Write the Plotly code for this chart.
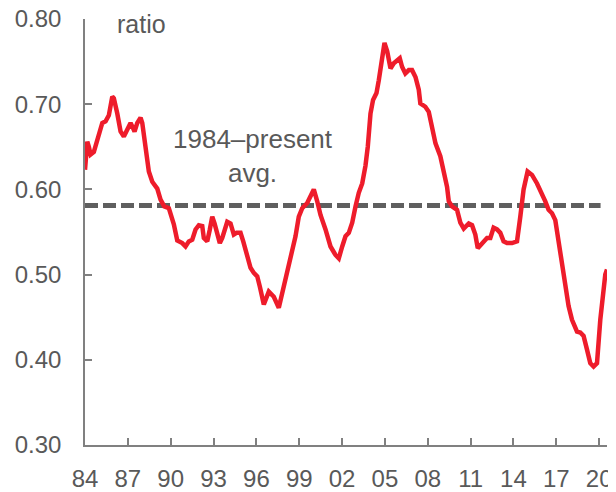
import plotly.graph_objects as go

# decimal years and ratio values
years = [1984.00, 1984.16, 1984.27, 1984.39, 1984.62, 1984.86, 1985.21, 1985.44, 1985.67, 1985.91,
         1986.02, 1986.26, 1986.49, 1986.72, 1986.96, 1987.19, 1987.31, 1987.47, 1987.66, 1987.89,
         1988.01, 1988.24, 1988.47, 1988.71, 1989.06, 1989.29, 1989.55, 1989.87, 1990.22, 1990.46,
         1990.81, 1991.04, 1991.27, 1991.51, 1991.74, 1991.97, 1992.21, 1992.32, 1992.56, 1992.74,
         1992.91, 1993.07, 1993.26, 1993.44, 1993.61, 1993.84, 1993.96, 1994.19, 1994.31, 1994.42,
         1994.61, 1994.89, 1995.08, 1995.24, 1995.40, 1995.59, 1995.82, 1996.06, 1996.24, 1996.41,
         1996.52, 1996.87, 1997.22, 1997.57, 1997.92, 1998.27, 1998.51, 1998.74, 1998.97, 1999.21,
         1999.56, 1999.79, 2000.02, 2000.26, 2000.49, 2000.84, 2001.19, 2001.54, 2001.77, 2002.01,
         2002.24, 2002.47, 2002.71, 2002.94, 2003.17, 2003.41, 2003.64, 2003.80, 2003.99, 2004.17,
         2004.41, 2004.57, 2004.81, 2004.97, 2005.16, 2005.39, 2005.62, 2005.85, 2006.04, 2006.20,
         2006.43, 2006.67, 2006.90, 2007.14, 2007.37, 2007.48, 2007.83, 2008.07, 2008.30, 2008.54,
         2008.88, 2009.12, 2009.35, 2009.47, 2009.70, 2010.05, 2010.28, 2010.52, 2010.87, 2011.10,
         2011.33, 2011.50, 2011.80, 2012.15, 2012.38, 2012.61, 2012.85, 2013.08, 2013.31, 2013.55,
         2013.90, 2014.25, 2014.48, 2014.71, 2014.99, 2015.30, 2015.65, 2016.00, 2016.23, 2016.46,
         2016.70, 2016.93, 2017.16, 2017.40, 2017.63, 2017.86, 2018.10, 2018.45, 2018.68, 2018.91,
         2019.15, 2019.38, 2019.61, 2019.85, 2020.08, 2020.27, 2020.43, 2020.55]
ratio = [0.623, 0.656, 0.650, 0.641, 0.644, 0.660, 0.678, 0.680, 0.687, 0.709,
         0.707, 0.689, 0.668, 0.662, 0.670, 0.678, 0.674, 0.668, 0.678, 0.684,
         0.678, 0.646, 0.621, 0.609, 0.601, 0.588, 0.580, 0.578, 0.559, 0.540,
         0.537, 0.533, 0.539, 0.541, 0.553, 0.558, 0.557, 0.543, 0.539, 0.553,
         0.568, 0.560, 0.549, 0.537, 0.543, 0.557, 0.562, 0.560, 0.553, 0.547,
         0.549, 0.549, 0.539, 0.529, 0.517, 0.508, 0.502, 0.498, 0.486, 0.471,
         0.465, 0.480, 0.474, 0.461, 0.486, 0.510, 0.525, 0.545, 0.568, 0.578,
         0.584, 0.592, 0.600, 0.586, 0.570, 0.553, 0.533, 0.523, 0.519, 0.533,
         0.545, 0.549, 0.561, 0.580, 0.596, 0.607, 0.628, 0.650, 0.689, 0.705,
         0.713, 0.728, 0.756, 0.772, 0.762, 0.742, 0.748, 0.752, 0.754, 0.744,
         0.736, 0.740, 0.740, 0.732, 0.717, 0.701, 0.697, 0.691, 0.670, 0.654,
         0.639, 0.623, 0.603, 0.586, 0.580, 0.576, 0.561, 0.554, 0.560, 0.558,
         0.547, 0.531, 0.537, 0.543, 0.543, 0.555, 0.553, 0.549, 0.539, 0.537,
         0.537, 0.539, 0.568, 0.600, 0.621, 0.617, 0.607, 0.596, 0.586, 0.576,
         0.572, 0.564, 0.541, 0.514, 0.486, 0.463, 0.447, 0.433, 0.432, 0.428,
         0.412, 0.396, 0.392, 0.396, 0.447, 0.482, 0.500, 0.506]

avg_value = 0.581
avg_span = [1984.0, 2020.1]

x_tick_vals = [1984, 1987, 1990, 1993, 1996, 1999, 2002, 2005, 2008, 2011, 2014, 2017, 2020]
x_tick_text = ["84", "87", "90", "93", "96", "99", "02", "05", "08", "11", "14", "17", "20"]
y_tick_vals = [0.30, 0.40, 0.50, 0.60, 0.70, 0.80]
y_tick_text = ["0.30", "0.40", "0.50", "0.60", "0.70", "0.80"]

TXT = "#595959"
AX = "#808080"
FONT = "Liberation Sans, Arial, sans-serif"

fig = go.Figure()
fig.add_trace(go.Scatter(x=avg_span, y=[avg_value, avg_value], mode="lines",
                         line=dict(color="#5f5f5f", width=5, dash="13px,5px"),
                         hoverinfo="skip", showlegend=False))
fig.add_trace(go.Scatter(x=years, y=ratio, mode="lines",
                         line=dict(color="#ee1c2b", width=4.5, shape="linear"),
                         showlegend=False))

fig.add_annotation(x=0.057, y=0.988, xref="paper", yref="paper", text="ratio",
                   showarrow=False, xanchor="left", yanchor="middle",
                   font=dict(family=FONT, size=25, color=TXT))
fig.add_annotation(x=1995.76, y=0.639, xref="x", yref="y",
                   text="1984\u2013present<br>avg.", showarrow=False,
                   xanchor="center", yanchor="middle", align="center",
                   font=dict(family=FONT, size=26, color=TXT))

# the page body adds an 8px margin, so the figure is drawn 8px smaller
fig.update_layout(
    width=608, height=484,
    margin=dict(l=77, r=9, t=11, b=47, autoexpand=False),
    paper_bgcolor="white", plot_bgcolor="white",
    font=dict(family=FONT, size=24, color=TXT),
    xaxis=dict(range=[1984.0, 2020.55], tickmode="array", tickvals=x_tick_vals,
               ticktext=x_tick_text, ticks="inside", ticklen=7, tickwidth=1.5,
               tickcolor=AX, showline=True, linecolor=AX, linewidth=1.5,
               showgrid=False, zeroline=False, ticklabelstandoff=11, automargin=False,
               ticklabeloverflow="allow",
               tickfont=dict(family=FONT, size=24, color=TXT)),
    yaxis=dict(range=[0.30, 0.80], tickmode="array", tickvals=y_tick_vals,
               ticktext=y_tick_text, ticks="inside", ticklen=7, tickwidth=1.5,
               tickcolor=AX, showline=True, linecolor=AX, linewidth=1.5,
               showgrid=False, zeroline=False, ticklabelstandoff=17, automargin=False,
               ticklabeloverflow="allow",
               tickfont=dict(family=FONT, size=24, color=TXT)),
)

fig.write_html("out.html")
